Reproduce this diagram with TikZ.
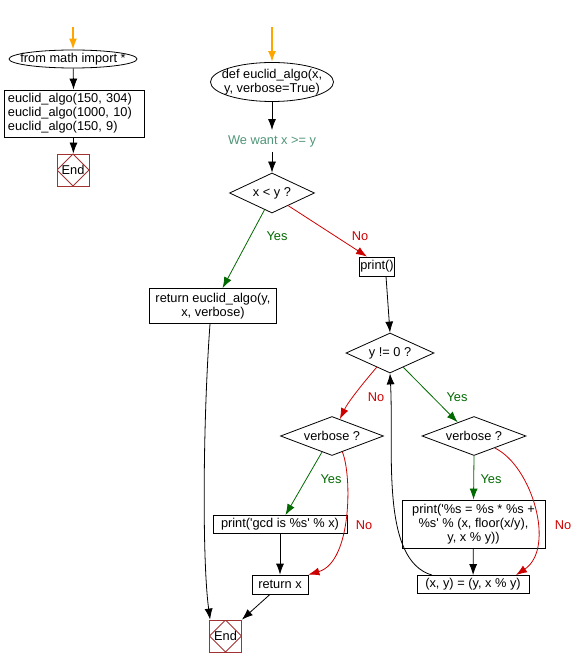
\documentclass[tikz,border=0pt]{standalone}
\usepackage{fontspec}
\setmainfont{Liberation Sans}
\usetikzlibrary{shapes.geometric}
\usetikzlibrary{arrows.meta}
\definecolor{yesgreen}{RGB}{0,105,0}
\definecolor{nored}{RGB}{205,0,0}
\definecolor{notegreen}{RGB}{80,150,120}
\definecolor{startorange}{RGB}{255,165,0}
\definecolor{endred}{RGB}{160,50,50}
\tikzstyle{flow} = [draw=black, line width=0.8pt, -{Latex[length=11pt,width=8pt]}]
\tikzstyle{yesflow} = [flow, yesgreen]
\tikzstyle{noflow} = [flow, nored]
\tikzstyle{startflow} = [flow, startorange, line width=2pt]
\tikzstyle{stmt} = [draw, rectangle, line width=0.8pt, inner sep=2pt, align=center]
\tikzstyle{decide} = [draw, diamond, line width=0.8pt, aspect=2.5, inner sep=0pt]
\tikzstyle{term} = [draw, ellipse, line width=0.8pt, inner xsep=-10pt, inner ysep=-5pt, align=center]
\tikzstyle{endbox} = [draw=endred, rectangle, line width=0.8pt, minimum width=32pt, minimum height=32pt, inner sep=0pt,
	path picture={\draw[endred, line width=0.8pt] (path picture bounding box.north) -- (path picture bounding box.east)
		-- (path picture bounding box.south) -- (path picture bounding box.west) -- cycle;}]
\tikzstyle{yeslabel} = [text=yesgreen]
\tikzstyle{nolabel} = [text=nored]

\begin{document}
\begin{tikzpicture}[x=1pt, y=-1pt, every node/.style={font=\fontsize{12.8}{14}\selectfont}]

	\useasboundingbox (0,0) rectangle (583,668);

	% main program
	\coordinate (start1) at (73,27);
	\node [term, minimum width=128pt, minimum height=18pt] (imp) at (73,59) {from math import *};
	\node [stmt, align=left, text width=132pt, inner xsep=4pt, minimum height=47pt] (calls) at (74,113.5)
		{euclid\_algo(150, 304)\\euclid\_algo(1000, 10)\\euclid\_algo(150, 9)};
	\node [endbox] (end1) at (73,170) {End};

	\draw [startflow] (start1) -- (imp);
	\draw [flow] (imp) -- (calls);
	\draw [flow] (calls) -- (end1);

	% function body
	\coordinate (start2) at (272,27);
	\node [term, minimum width=123pt, minimum height=39pt] (def) at (272,82) {def euclid\_algo(x,\\y, verbose=True)};
	\node [text=notegreen, inner sep=5pt] (want) at (272,141) {We want x >= y};
	\node [decide, minimum width=85pt, minimum height=40pt] (lt) at (272,193) {x < y ?};
	\node [stmt, minimum width=127pt, minimum height=35pt] (ret) at (213,306) {return euclid\_algo(y,\\x, verbose)};
	\node [stmt, inner xsep=1pt, minimum height=19pt] (pr) at (377,266.5) {print()};
	\node [decide, minimum width=88pt, minimum height=40pt] (ne) at (390,353) {y != 0 ?};
	\node [decide, minimum width=103pt, minimum height=39pt] (vl) at (332,436) {verbose ?};
	\node [decide, minimum width=104pt, minimum height=39pt] (vr) at (474,436) {verbose ?};
	\node [stmt, minimum width=134pt, minimum height=18pt] (gcd) at (280,524.5) {print(\textquotesingle gcd is \%s\textquotesingle{} \% x)};
	\node [stmt, minimum width=56pt, minimum height=19pt] (retx) at (280,584.5) {return x};
	\node [stmt, minimum width=143pt, minimum height=48pt] (pf) at (473.5,524)
		{print(\textquotesingle\%s = \%s * \%s +\\\%s\textquotesingle{} \% (x, floor(x/y),\\y, x \% y))};
	\node [stmt, minimum width=112pt, minimum height=18pt] (xy) at (473,584.5) {(x, y) = (y, x \% y)};
	\node [endbox] (end2) at (225.5,636) {End};

	\node [yeslabel] (l1) at (277,236) {Yes};
	\node [nolabel] (l2) at (360,236) {No};
	\node [nolabel] (l3) at (376,397) {No};
	\node [yeslabel] (l4) at (457,397) {Yes};
	\node [yeslabel] (l5) at (331,479) {Yes};
	\node [yeslabel] (l6) at (491,479) {Yes};
	\node [nolabel] (l7) at (364,525) {No};
	\node [nolabel] (l8) at (563,525) {No};

	\draw [startflow] (start2) -- (def);
	\draw [flow] (def) -- (want);
	\draw [flow] (want) -- (lt);
	\draw [yesflow] (lt.-114) -- (ret);
	\draw [noflow] (lt.-38) -- ([xshift=-10pt]pr.north);
	\draw [flow] ([xshift=9pt]pr.south) -- (ne.north);
	\draw [flow] ([xshift=-3pt]ret.south) .. controls (203,420) and (202,560) .. ([xshift=1pt]end2.north west);

	\draw [noflow] (ne.-133) .. controls (364,382) and (348,402) .. (vl.65);
	\draw [yesflow] (ne.-47) -- (vr.140);
	\draw [yesflow] (vl.-122) -- (gcd);
	\draw [noflow] (vl.-57) .. controls (352,475) and (352,562) .. (retx.north east);
	\draw [flow] (gcd) -- (retx);
	\draw [flow] ([xshift=-10pt]retx.south) -- (end2.north east);

	\draw [yesflow] (vr.south) -- (pf.north);
	\draw [noflow] (vr.-30) .. controls (532,466) and (556,548) .. ([xshift=43pt]xy.north);
	\draw [flow] (pf) -- (xy);
	\draw [flow] ([xshift=-41pt]xy.north) .. controls (380,560) and (394,450) .. (ne.south);

\end{tikzpicture}
\end{document}
